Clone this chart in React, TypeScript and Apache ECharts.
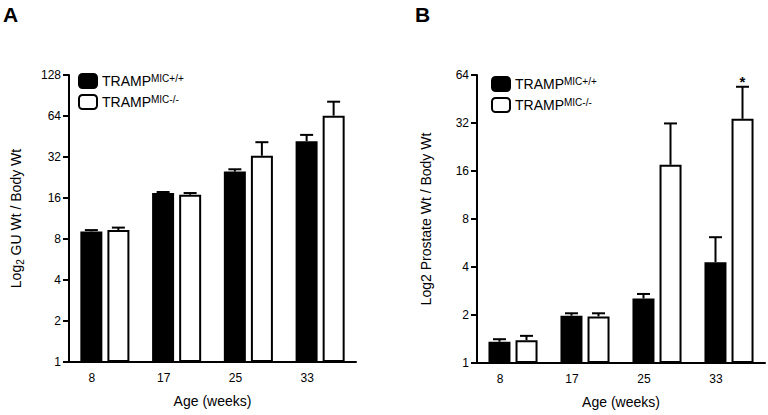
import React, { useEffect, useRef } from "react";
import * as echarts from "echarts";

const categories = ["8", "17", "25", "33"];
const yTicksA = [1, 128];
const yTicksB = [1, 64];

// Panel A: GU weight / body weight
const aWt = [9.1, 17.4, 25.0, 41.8];
const aWtErr = [0.2, 0.3, 1.0, 4.7];
const aKo = [9.3, 16.9, 32.7, 64.4];
const aKoErr = [0.4, 0.5, 8.4, 17.1];

// Panel B: prostate weight / body weight
const bWt = [1.36, 1.98, 2.54, 4.29];
const bWtErr = [0.05, 0.07, 0.17, 1.86];
const bKo = [1.39, 1.96, 17.5, 34.0];
const bKoErr = [0.09, 0.09, 14.3, 20.0];
const bKoSig = ["", "", "", "*"];

const FONT = "'Liberation Sans', Arial, Helvetica, sans-serif";
const WT = "wt";
const KO = "ko";

function errSeries(gridIdx: number, means: number[], errs: number[], off: number, sig?: string[]) {
  return {
    type: "custom",
    xAxisIndex: gridIdx,
    yAxisIndex: gridIdx,
    z: 5,
    silent: true,
    data: means.map((m, i) => [i, m, errs[i]]),
    encode: { x: 0, y: 1 },
    renderItem: (params: any, api: any) => {
      const idx = api.value(0);
      const m = api.value(1);
      const e = api.value(2);
      const base = api.coord([idx, m]);
      const top = api.coord([idx, m + e]);
      const x = base[0] + off;
      const children: any[] = [
        { type: "line", shape: { x1: x, y1: base[1], x2: x, y2: top[1] }, style: { stroke: "#000", lineWidth: 2 } },
        { type: "line", shape: { x1: x - 6.5, y1: top[1], x2: x + 6.5, y2: top[1] }, style: { stroke: "#000", lineWidth: 2 } },
      ];
      if (sig && sig[idx]) {
        children.push({
          type: "text",
          x: x,
          y: top[1] + 2.5,
          style: { text: sig[idx], fill: "#000", fontSize: 15, fontWeight: "bold", fontFamily: FONT, align: "center", verticalAlign: "bottom" },
        });
      }
      return { type: "group", children };
    },
  };
}

function barSeries(name: string, gridIdx: number, data: number[], fill: string) {
  return {
    name,
    type: "bar",
    xAxisIndex: gridIdx,
    yAxisIndex: gridIdx,
    data,
    barWidth: 22,
    barGap: "23%",
    itemStyle: { color: fill, borderColor: "#000", borderWidth: 2 },
    z: 3,
  };
}

const legendRich = {
  a: { fontSize: 14, fontFamily: FONT, color: "#000", lineHeight: 16, verticalAlign: "middle" },
  s: { fontSize: 10, fontFamily: FONT, color: "#000", lineHeight: 10, verticalAlign: "top" },
};

function legendFor(left: number, top: number) {
  return {
    orient: "vertical",
    left,
    top,
    itemWidth: 18,
    itemHeight: 14,
    itemGap: 5,
    padding: 0,
    selectedMode: false,
    data: [WT, KO],
    formatter: (n: string) => (n === WT ? "{a|TRAMP}{s|MIC+/+}" : "{a|TRAMP}{s|MIC-/-}"),
    textStyle: { rich: legendRich },
  };
}

function xAxisFor(gridIdx: number) {
  return {
    type: "category",
    gridIndex: gridIdx,
    data: categories,
    boundaryGap: true,
    axisLine: { lineStyle: { color: "#000", width: 2 } },
    axisTick: { show: false },
    axisLabel: { color: "#000", fontSize: 12, fontFamily: FONT, margin: 10, padding: [0, 26, 0, 0] },
    name: "Age (weeks)",
    nameLocation: "middle",
    nameGap: 32,
    nameTextStyle: { color: "#000", fontSize: 14, fontFamily: FONT },
  };
}

function yAxisFor(gridIdx: number, ticks: number[], name: string, rich?: any) {
  return {
    type: "log",
    logBase: 2,
    gridIndex: gridIdx,
    min: ticks[0],
    max: ticks[1],
    interval: 1,
    axisLine: { show: true, lineStyle: { color: "#000", width: 2 } },
    axisTick: { show: true, length: 6, lineStyle: { color: "#000", width: 2 } },
    splitLine: { show: false },
    axisLabel: { color: "#000", fontSize: 12, fontFamily: FONT, margin: 8 },
    name,
    nameLocation: "middle",
    nameGap: 44,
    nameTextStyle: { color: "#000", fontSize: 14, fontFamily: FONT, rich },
  };
}

export default function App() {
  const ref = useRef<HTMLDivElement>(null);
  useEffect(() => {
    if (!ref.current) return;
    const chart = echarts.init(ref.current, null, { renderer: "svg" });
    const subRich = {
      a: { fontSize: 14, fontFamily: FONT, color: "#000", lineHeight: 18, verticalAlign: "middle" },
      sub: { fontSize: 10, fontFamily: FONT, color: "#000", lineHeight: 10, verticalAlign: "bottom" },
    };
    chart.setOption({
      animation: false,
      backgroundColor: "#fff",
      textStyle: { fontFamily: FONT },
      grid: [
        { left: 69, top: 75, width: 287, height: 287 },
        { left: 477, top: 75, width: 288, height: 288 },
      ],
      legend: [legendFor(78, 73), legendFor(491, 76)],
      xAxis: [xAxisFor(0), xAxisFor(1)],
      yAxis: [
        yAxisFor(0, yTicksA, "{a|Log}{sub|2}{a| GU Wt / Body Wt}", subRich),
        yAxisFor(1, yTicksB, "Log2 Prostate Wt / Body Wt"),
      ],
      graphic: [
        { type: "text", left: 3, top: 4, style: { text: "A", fontSize: 21, fontWeight: "bold", fontFamily: FONT, fill: "#000" } },
        { type: "text", left: 415, top: 4, style: { text: "B", fontSize: 21, fontWeight: "bold", fontFamily: FONT, fill: "#000" } },
      ],
      series: [
        barSeries(WT, 0, aWt, "#000"),
        barSeries(KO, 0, aKo, "#fff"),
        barSeries(WT, 1, bWt, "#000"),
        barSeries(KO, 1, bKo, "#fff"),
        errSeries(0, aWt, aWtErr, -13.5),
        errSeries(0, aKo, aKoErr, 13.5),
        errSeries(1, bWt, bWtErr, -13.5),
        errSeries(1, bKo, bKoErr, 13.5, bKoSig),
      ],
    });
    return () => chart.dispose();
  }, []);
  return <div ref={ref} style={{ position: "fixed", left: 0, top: 0, width: 768, height: 415 }} />;
}
